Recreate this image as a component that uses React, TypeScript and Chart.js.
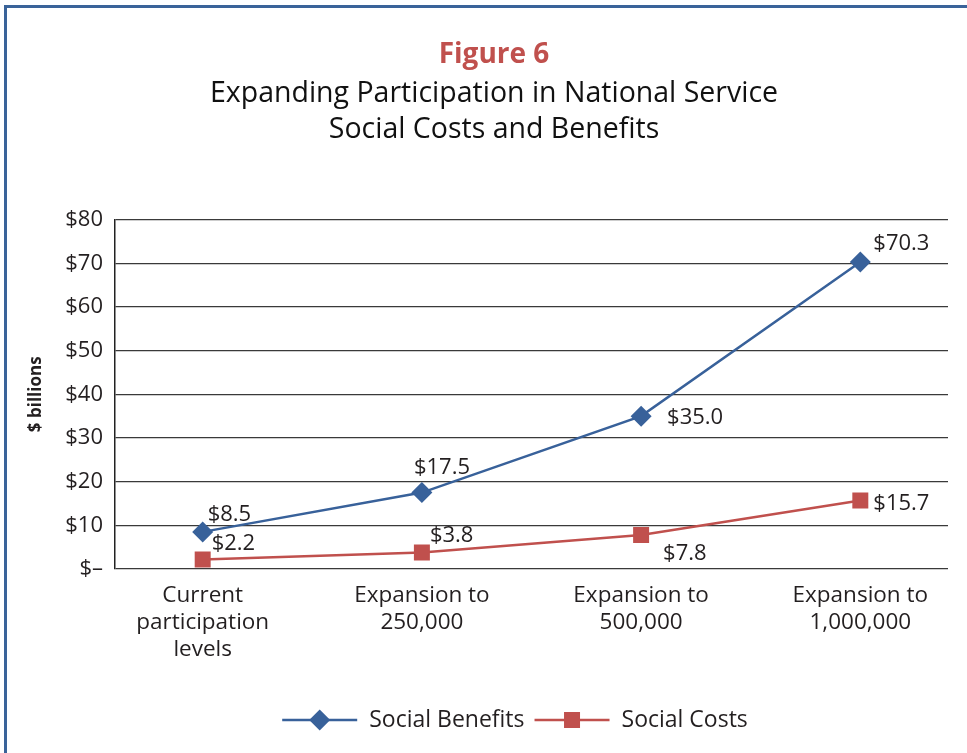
import React, { useEffect, useRef } from 'react';
import { Chart, registerables } from 'chart.js';

Chart.register(...registerables);

// ---------- data ----------
const CATEGORIES: string[][] = [
  ['Current', 'participation', 'levels'],
  ['Expansion to', '250,000'],
  ['Expansion to', '500,000'],
  ['Expansion to', '1,000,000'],
];
const SOCIAL_BENEFITS = [8.5, 17.5, 35.0, 70.3];
const SOCIAL_COSTS = [2.2, 3.8, 7.8, 15.7];
const Y_TICKS = [0, 10, 20, 30, 40, 50, 60, 70, 80];
const SERIES_NAMES = ['Social Benefits', 'Social Costs'];
const TITLE = 'Figure 6';
const SUBTITLE = ['Expanding Participation in National Service', 'Social Costs and Benefits'];
const Y_TITLE = '$ billions';

// ---------- style ----------
const FONT = "'Open Sans', 'Noto Sans', sans-serif";
const TEXT = '#231f20';
const BLUE = '#38619a';
const RED = '#c0504d';
// label placement per point: [dx, dy] of text left / baseline from point
const LABEL_OFFSETS = [
  [[5, -11], [-8, -19], [26, 8], [13, -12]],
  [[9, -9], [8, -10], [22, 25], [13, 10]],
];

const fmtMoney = (v: number) => (v === 0 ? '$–' : '$' + v);

const dataLabelPlugin = {
  id: 'dataLabels',
  afterDatasetsDraw(chart: any) {
    const ctx = chart.ctx;
    ctx.save();
    ctx.font = `22px ${FONT}`;
    ctx.fillStyle = TEXT;
    ctx.textAlign = 'left';
    ctx.textBaseline = 'alphabetic';
    chart.data.datasets.forEach((ds: any, di: number) => {
      const meta = chart.getDatasetMeta(di);
      meta.data.forEach((el: any, i: number) => {
        const v = ds.data[i].y;
        const [dx, dy] = LABEL_OFFSETS[di][i];
        ctx.fillText('$' + v.toFixed(1), el.x + dx, el.y + dy);
      });
    });
    ctx.restore();
  },
};

const legendPlugin = {
  id: 'lineLegend',
  afterDraw(chart: any) {
    const ctx = chart.ctx;
    const y = 720;
    const lineLen = 75;
    const gap = 12;
    const itemGap = 10;
    ctx.save();
    ctx.font = `23px ${FONT}`;
    const items = chart.data.datasets.map((ds: any) => ({
      ds,
      tw: ctx.measureText(ds.label).width,
    }));
    const total = items.reduce((s: number, it: any) => s + lineLen + gap + it.tw, 0) + itemGap * (items.length - 1);
    let x = 515 - total / 2;
    items.forEach((it: any) => {
      const { ds } = it;
      ctx.strokeStyle = ds.borderColor;
      ctx.lineWidth = 2.5;
      ctx.beginPath();
      ctx.moveTo(x, y);
      ctx.lineTo(x + lineLen, y);
      ctx.stroke();
      ctx.fillStyle = ds.borderColor;
      const cx = x + lineLen / 2;
      if (ds.pointStyle === 'rectRot') {
        const r = 10.5;
        ctx.beginPath();
        ctx.moveTo(cx - r, y);
        ctx.lineTo(cx, y - r);
        ctx.lineTo(cx + r, y);
        ctx.lineTo(cx, y + r);
        ctx.closePath();
        ctx.fill();
      } else {
        const s = 8;
        ctx.fillRect(cx - s, y - s, 2 * s, 2 * s);
      }
      ctx.fillStyle = TEXT;
      ctx.textAlign = 'left';
      ctx.textBaseline = 'middle';
      ctx.fillText(ds.label, x + lineLen + gap, y);
      x += lineLen + gap + it.tw + itemGap;
    });
    ctx.restore();
  },
};

export default function App() {
  const ref = useRef<HTMLCanvasElement | null>(null);

  useEffect(() => {
    if (!ref.current) return;
    const chart = new Chart(ref.current, {
      type: 'line',
      data: {
        datasets: [
          {
            label: SERIES_NAMES[0],
            data: SOCIAL_BENEFITS.map((y, i) => ({ x: i, y })),
            borderColor: BLUE,
            backgroundColor: BLUE,
            borderWidth: 2.5,
            pointStyle: 'rectRot',
            pointRadius: 10.5,
            pointBorderWidth: 0,
            tension: 0,
          },
          {
            label: SERIES_NAMES[1],
            data: SOCIAL_COSTS.map((y, i) => ({ x: i, y })),
            borderColor: RED,
            backgroundColor: RED,
            borderWidth: 2.5,
            pointStyle: 'rect',
            pointRadius: 11.3,
            pointBorderWidth: 0,
            tension: 0,
          },
        ],
      },
      options: {
        animation: false,
        responsive: false,
        events: [],
        layout: { padding: { left: 40, right: 19, top: 0, bottom: 0 } },
        plugins: {
          legend: { display: false },
          tooltip: { enabled: false },
          title: {
            display: true,
            text: TITLE,
            color: RED,
            font: { family: FONT, size: 28, weight: 'bold', lineHeight: 1.2 },
            padding: { top: 38, bottom: 0.4 },
          },
          subtitle: {
            display: true,
            text: SUBTITLE,
            color: '#111',
            font: { family: FONT, size: 28.5, weight: 'normal', lineHeight: 36 / 28.5 },
            padding: { top: 3.6, bottom: 72 },
          },
        },
        scales: {
          x: {
            type: 'linear',
            min: -0.4,
            max: 3.4,
            afterBuildTicks: (s: any) => {
              s.ticks = CATEGORIES.map((_, i) => ({ value: i }));
            },
            afterFit: (s: any) => {
              s.height = 184;
            },
            grid: { display: false, drawTicks: false },
            border: { display: false },
            ticks: {
              callback: (v: any) => CATEGORIES[v],
              color: TEXT,
              font: { family: FONT, size: 22.5, lineHeight: 27 / 22.5 },
              padding: 13,
              maxRotation: 0,
              autoSkip: false,
            },
          },
          y: {
            type: 'linear',
            min: 0,
            max: 80,
            afterBuildTicks: (s: any) => {
              s.ticks = Y_TICKS.map((v) => ({ value: v }));
            },
            afterFit: (s: any) => {
              s.width = 75;
            },
            grid: { color: '#3a3a3a', lineWidth: 1.2, drawTicks: false },
            border: { display: true, color: '#222', width: 1.5 },
            ticks: {
              callback: (v: any) => fmtMoney(v),
              color: TEXT,
              font: { family: FONT, size: 22 },
              padding: 12,
            },
            title: {
              display: true,
              text: Y_TITLE,
              color: TEXT,
              font: { family: FONT, size: 17, weight: 'bold' },
              padding: { top: -14, bottom: 0 },
            },
          },
        },
      },
      plugins: [dataLabelPlugin, legendPlugin],
    } as any);
    return () => chart.destroy();
  }, []);

  return (
    <div style={{ position: 'fixed', left: 0, top: 0, width: 967, height: 753, background: '#fff', overflow: 'hidden' }}>
      <div
        style={{
          position: 'absolute',
          left: 4,
          top: 5,
          width: 2000,
          height: 2000,
          borderLeft: '3px solid #3a6399',
          borderTop: '3px solid #3a6399',
        }}
      />
      <canvas ref={ref} width={967} height={753} style={{ position: 'absolute', left: 0, top: 0, width: 967, height: 753 }} />
    </div>
  );
}
